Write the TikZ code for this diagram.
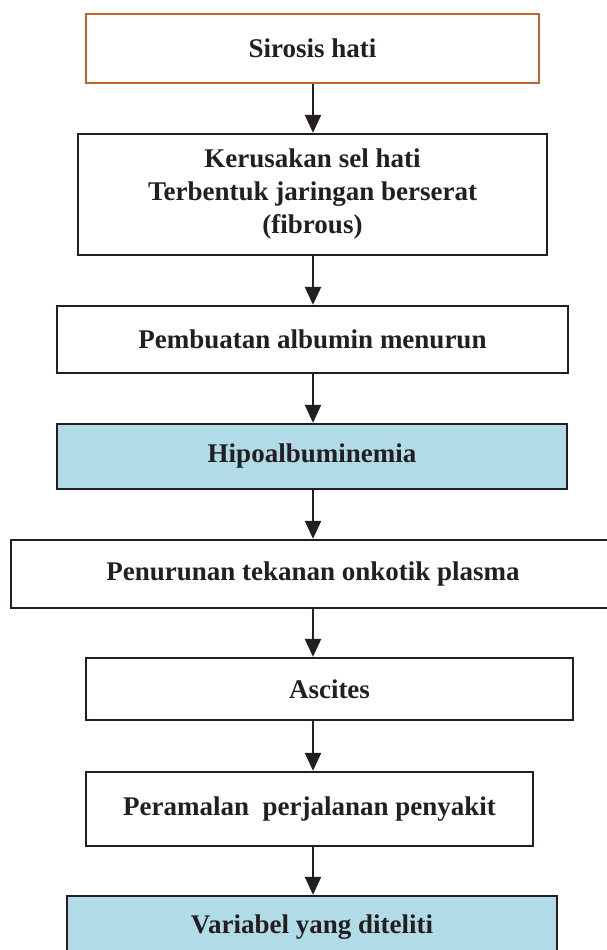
\documentclass[tikz,border=0pt]{standalone}
\usepackage{fontspec}
\setmainfont{Liberation Serif}
\usetikzlibrary{arrows.meta}
\definecolor{boxline}{HTML}{231F20}
\definecolor{orangeline}{HTML}{C0652B}
\definecolor{bluefill}{HTML}{B1DCE7}
\tikzset{
  flowbox/.style={draw=boxline, line width=2.3pt, rectangle, inner sep=0pt, align=center,
    font=\fontsize{27}{33}\selectfont\bfseries, text=boxline},
  flowarrow/.style={draw=boxline, line width=2.3pt, -{Triangle[length=18pt,width=16pt]}},
}
\begin{document}
\begin{tikzpicture}[x=1pt,y=-1pt]
\useasboundingbox (0,0) rectangle (607,950);
\clip (0,0) rectangle (607,950);
\node[flowbox, draw=orangeline, minimum width=453pt, minimum height=69pt] (n1) at (312.5,48.5) {Sirosis hati};
\node[flowbox, minimum width=469pt, minimum height=121pt] (n2) at (312.5,194.5) {Kerusakan sel hati\\Terbentuk jaringan berserat\\(fibrous)};
\node[flowbox, minimum width=511pt, minimum height=67pt] (n3) at (312.5,339.5) {Pembuatan albumin menurun};
\node[flowbox, fill=bluefill, minimum width=510pt, minimum height=65pt] (n4) at (312,456.5) {Hipoalbuminemia};
\node[flowbox, minimum width=604pt, minimum height=68pt] (n5) at (313,574) {Penurunan tekanan onkotik plasma};
\node[flowbox, minimum width=487pt, minimum height=62pt] (n6) at (329.5,689) {Ascites};
\node[flowbox, minimum width=447pt, minimum height=74pt] (n7) at (309.5,809) {Peramalan\ \ perjalanan penyakit};
\node[flowbox, fill=bluefill, minimum width=490pt, minimum height=62pt] (n8) at (312,927) {Variabel yang diteliti};
\coordinate (ax) at (313,0);
\draw[flowarrow] (n1.south -| ax) -- (n2.north -| ax);
\draw[flowarrow] (n2.south -| ax) -- (n3.north -| ax);
\draw[flowarrow] (n3.south -| ax) -- (n4.north -| ax);
\draw[flowarrow] (n4.south -| ax) -- (n5.north -| ax);
\draw[flowarrow] (n5.south -| ax) -- (n6.north -| ax);
\draw[flowarrow] (n6.south -| ax) -- (n7.north -| ax);
\draw[flowarrow] (n7.south -| ax) -- (n8.north -| ax);
\end{tikzpicture}
\end{document}
